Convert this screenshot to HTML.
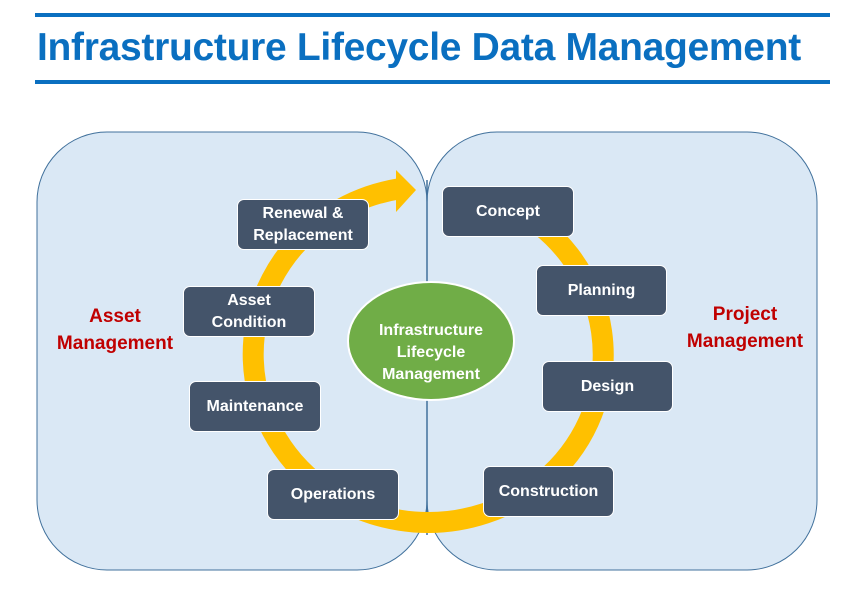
<!DOCTYPE html>
<html><head><style>
body{margin:0;width:842px;height:596px;background:#fff;position:relative;overflow:hidden;font-family:"Liberation Sans",sans-serif}
.t{position:absolute;left:37px;top:26px;font-size:39px;font-weight:bold;color:#0a6fc0;letter-spacing:-0.3px}
.b{position:absolute;background:#44546a;color:#fff;border-radius:7px;font-weight:bold;font-size:16px;display:flex;align-items:center;justify-content:center;text-align:center;line-height:22px;border:1px solid #fff;box-sizing:border-box}
.r{position:absolute;color:#c00000;font-weight:bold;font-size:19px;text-align:center;line-height:27px}
</style></head><body>
<div style="position:absolute;left:35px;top:13px;width:795px;height:4px;background:#0a6fc0"></div>
<div style="position:absolute;left:35px;top:80px;width:795px;height:4px;background:#0a6fc0"></div>
<div class="t">Infrastructure Lifecycle Data Management</div>
<svg width="842" height="596" style="position:absolute;left:0;top:0">
<rect x="37" y="132" width="390" height="438" rx="70" fill="#dae8f5" stroke="#41719c" stroke-width="1"/>
<rect x="427" y="132" width="390" height="438" rx="70" fill="#dae8f5" stroke="#41719c" stroke-width="1"/>
<line x1="427" y1="180" x2="427" y2="535" stroke="#41719c" stroke-width="1.5"/>
<path d="M512 207 A175 168 0 1 1 398 189" fill="none" stroke="#ffc000" stroke-width="21"/>
<polygon points="396,170 416,190 396,212" fill="#ffc000"/>
<ellipse cx="431" cy="341" rx="83" ry="59" fill="#70ad47" stroke="#fff" stroke-width="2"/>
</svg>
<div style="position:absolute;left:348px;top:320px;width:166px;text-align:center;color:#fff;font-weight:bold;font-size:16px;line-height:22px">Infrastructure<br>Lifecycle<br>Management</div>
<div class="b" style="left:237px;top:199px;width:132px;height:51px">Renewal &amp;<br>Replacement</div>
<div class="b" style="left:183px;top:286px;width:132px;height:51px">Asset<br>Condition</div>
<div class="b" style="left:189px;top:381px;width:132px;height:51px">Maintenance</div>
<div class="b" style="left:267px;top:469px;width:132px;height:51px">Operations</div>
<div class="b" style="left:442px;top:186px;width:132px;height:51px">Concept</div>
<div class="b" style="left:536px;top:265px;width:131px;height:51px">Planning</div>
<div class="b" style="left:542px;top:361px;width:131px;height:51px">Design</div>
<div class="b" style="left:483px;top:466px;width:131px;height:51px">Construction</div>
<div class="r" style="left:45px;top:303px;width:140px">Asset<br>Management</div>
<div class="r" style="left:675px;top:301px;width:140px">Project<br>Management</div>
</body></html>
